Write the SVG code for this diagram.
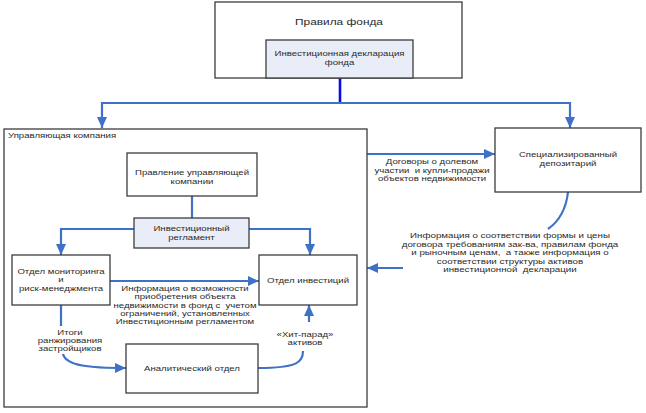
<svg xmlns="http://www.w3.org/2000/svg" width="646" height="413" viewBox="0 0 646 413">
<defs>
<style>
.box{fill:#ffffff;stroke:#3c3c3c;stroke-width:1.3}
.hl{fill:#e8edf8;stroke:#3c3c3c;stroke-width:1.3}
.ln{fill:none;stroke:#3f72c6;stroke-width:2.2}
text{font-family:"Liberation Sans",Arial,sans-serif;font-size:8px;fill:#2a2a2a;text-anchor:middle;white-space:pre}
.t{font-size:9.5px}
.l{text-anchor:start}
</style>
<marker id="ah" markerUnits="userSpaceOnUse" markerWidth="12" markerHeight="12" viewBox="0 0 12 12" refX="11" refY="6" orient="auto">
<path d="M0,1 L11,6 L0,11 Z" fill="#3f72c6"/>
</marker>
</defs>
<rect width="646" height="413" fill="#ffffff"/>
<g id="connectors">
<path d="M340,78 V103" fill="none" stroke="#0a0ae6" stroke-width="2.6"/>
<path class="ln" d="M340,103 H102 V128" marker-end="url(#ah)"/>
<path class="ln" d="M340,103 H570 V128" marker-end="url(#ah)"/>
<path class="ln" d="M192,196 V218"/>
<path class="ln" d="M134,229 H61 V255" marker-end="url(#ah)"/>
<path class="ln" d="M249,229 H310 V255" marker-end="url(#ah)"/>
<path class="ln" d="M110,281 H259" marker-end="url(#ah)"/>
<path class="ln" d="M61,305 V326"/>
<path class="ln" d="M63,354 C66,366 90,368 126,368" marker-end="url(#ah)"/>
<path class="ln" d="M258,368 C298,368 303,362 303,351"/>
<path class="ln" d="M309,322 V305" marker-end="url(#ah)"/>
<path class="ln" d="M367,154 H495" marker-end="url(#ah)"/>
<path class="ln" d="M568,192 C566,210 558,222 548,229"/>
<path class="ln" d="M403,268 H367" marker-end="url(#ah)"/>
</g>
<g id="pravila-fonda">
<rect class="box" x="215" y="2" width="247" height="76"/>
<text class="t" transform="translate(339 0) scale(1.25 1)" x="0" y="25">Правила фонда</text>
</g>
<g id="invest-declaration">
<rect class="hl" x="266" y="40" width="147" height="38"/>
<text transform="translate(339.5 0) scale(1.2 1)" x="0" y="56">Инвестиционная декларация</text>
<text transform="translate(339.5 0) scale(1.2 1)" x="0" y="65">фонда</text>
</g>
<g id="uk">
<rect class="box" x="4" y="129" width="363" height="278" style="fill:none"/>
<text class="l" transform="translate(8 0) scale(1.2 1)" x="0" y="138">Управляющая компания</text>
</g>
<g id="depository">
<rect class="box" x="495" y="128" width="146" height="64"/>
<text transform="translate(568 0) scale(1.2 1)" x="0" y="157">Специализированный</text>
<text transform="translate(568 0) scale(1.2 1)" x="0" y="166">депозитарий</text>
</g>
<g id="board">
<rect class="box" x="127" y="153" width="130" height="43"/>
<text transform="translate(192 0) scale(1.2 1)" x="0" y="175">Правление управляющей</text>
<text transform="translate(192 0) scale(1.2 1)" x="0" y="184">компании</text>
</g>
<g id="reglament">
<rect class="hl" x="134" y="218" width="115" height="30"/>
<text transform="translate(191.5 0) scale(1.2 1)" x="0" y="231">Инвестиционный</text>
<text transform="translate(191.5 0) scale(1.2 1)" x="0" y="240">регламент</text>
</g>
<g id="monitoring">
<rect class="box" x="12" y="255" width="98" height="50"/>
<text transform="translate(61 0) scale(1.2 1)" x="0" y="274">Отдел мониторинга</text>
<text transform="translate(61 0) scale(1.2 1)" x="0" y="282">и</text>
<text transform="translate(61 0) scale(1.2 1)" x="0" y="291">риск-менеджмента</text>
</g>
<g id="investments">
<rect class="box" x="259" y="255" width="98" height="50"/>
<text transform="translate(308 0) scale(1.2 1)" x="0" y="283">Отдел инвестиций</text>
</g>
<g id="analytics">
<rect class="box" x="126" y="344" width="132" height="49"/>
<text transform="translate(192 0) scale(1.2 1)" x="0" y="371">Аналитический отдел</text>
</g>
<g id="labels">
<text transform="translate(432 0) scale(1.2 1)" x="0" y="164">Договоры о долевом</text>
<text transform="translate(432 0) scale(1.2 1)" x="0" y="173">участии  и купли-продажи</text>
<text transform="translate(432 0) scale(1.2 1)" x="0" y="181">объектов недвижимости</text>
<text transform="translate(510 0) scale(1.22 1)" x="0" y="238">Информация о соответствии формы и цены</text>
<text transform="translate(510 0) scale(1.22 1)" x="0" y="247">договора требованиям зак-ва, правилам фонда</text>
<text transform="translate(510 0) scale(1.22 1)" x="0" y="255">и рыночным ценам,  а также информация о</text>
<text transform="translate(510 0) scale(1.22 1)" x="0" y="264">соответствии структуры активов</text>
<text transform="translate(510 0) scale(1.22 1)" x="0" y="272">инвестиционной  декларации</text>
<text transform="translate(185 0) scale(1.2 1)" x="0" y="291">Информация о возможности</text>
<text transform="translate(185 0) scale(1.2 1)" x="0" y="299">приобретения объекта</text>
<text transform="translate(185 0) scale(1.2 1)" x="0" y="308">недвижимости в фонд с  учетом</text>
<text transform="translate(185 0) scale(1.2 1)" x="0" y="316">ограничений, установленных</text>
<text transform="translate(185 0) scale(1.2 1)" x="0" y="324">Инвестиционным регламентом</text>
<text transform="translate(70 0) scale(1.2 1)" x="0" y="335">Итоги</text>
<text transform="translate(70 0) scale(1.2 1)" x="0" y="343">ранжирования</text>
<text transform="translate(70 0) scale(1.2 1)" x="0" y="351">застройщиков</text>
<text transform="translate(305 0) scale(1.2 1)" x="0" y="337">«Хит-парад»</text>
<text transform="translate(305 0) scale(1.2 1)" x="0" y="345">активов</text>
</g>
</svg>
